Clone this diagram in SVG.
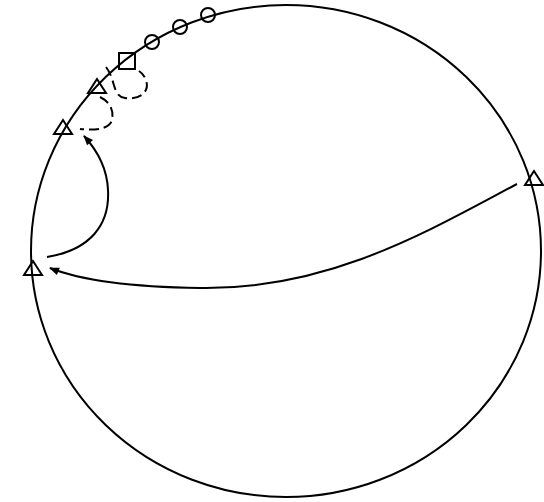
<svg xmlns="http://www.w3.org/2000/svg" width="544" height="502" viewBox="0 0 544 502">
<style>
.n{fill:none;stroke:#000;stroke-width:2}
.e{fill:none;stroke:#000;stroke-width:2}
.d{stroke-dasharray:10,5}
</style>
<defs>
<marker id="ah" viewBox="0 0 10 10" refX="9" refY="5" markerWidth="6" markerHeight="5" orient="auto" markerUnits="strokeWidth">
<path d="M0,1 L10,5 L0,9 z" fill="#000"/>
</marker>
</defs>
<rect width="544" height="502" fill="#fff"/>
<g id="connectors">
<ellipse class="e" cx="286" cy="251" rx="255" ry="246"/>
<path class="e" marker-end="url(#ah)" d="M517,184 C430,230 330,290 200,288 C130,287 80,280 50,268"/>
<path class="e" marker-end="url(#ah)" d="M47,257 C90,250 110,225 108,190 C107,165 95,148 84,136"/>
<path class="e d" d="M106,67 C116,80 112,96 125,98 C140,100 150,92 146,80 C144,75 142,73 139,71"/>
<path class="e d" d="M100,97 C110,102 114,110 112,120 C110,128 98,131 80,129"/>
</g>
<g id="c1"><circle class="n" cx="208" cy="15" r="7"/></g>
<g id="c2"><circle class="n" cx="180" cy="27" r="7"/></g>
<g id="c3"><circle class="n" cx="152" cy="42" r="7"/></g>
<g id="s1"><rect class="n" x="119" y="53" width="16" height="16"/></g>
<g id="t1"><polygon class="n" points="97,79 88,93 106,93"/></g>
<g id="t2"><polygon class="n" points="63,120 54,134 72,134"/></g>
<g id="t3"><polygon class="n" points="33,261 24,275 42,275"/></g>
<g id="t4"><polygon class="n" points="534,171 525,185 543,185"/></g>
</svg>
